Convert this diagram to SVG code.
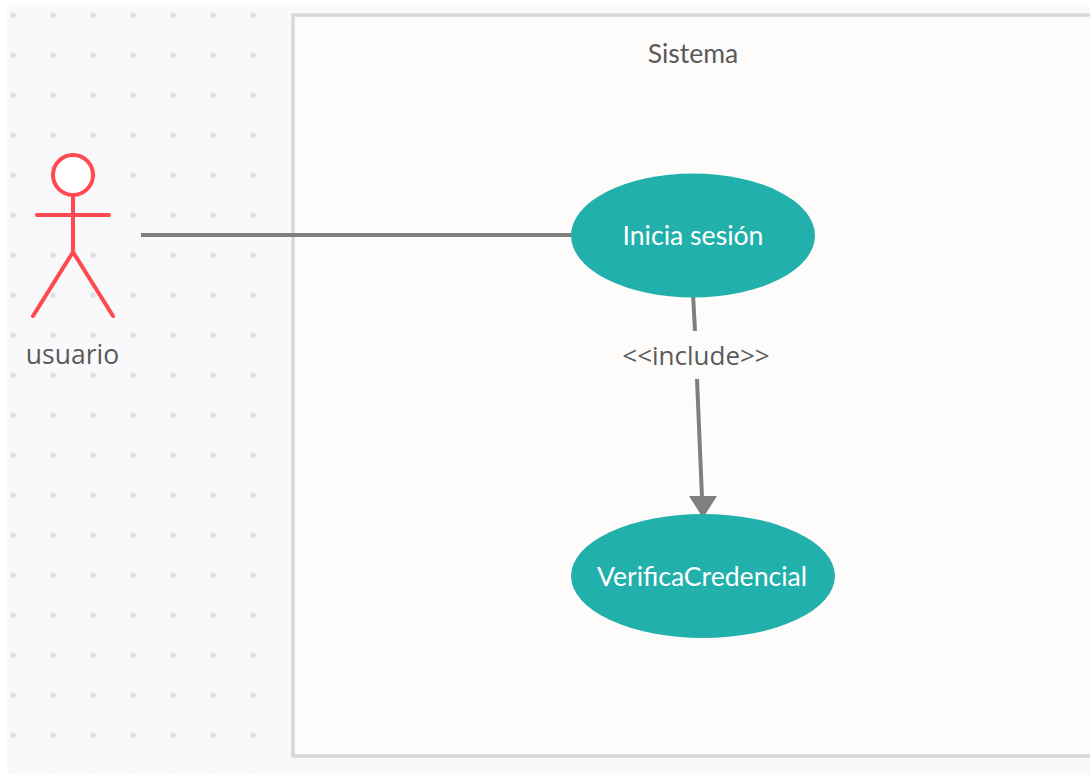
<svg xmlns="http://www.w3.org/2000/svg" width="1090" height="773" viewBox="0 0 1090 773">
<style>
text{font-family:"Lato","Noto Sans",sans-serif;text-anchor:middle}
.lbl{fill:#5a5a5a;font-size:26.500px}
.wide{font-family:"Open Sans","Noto Sans",sans-serif;font-size:26px}
.use{fill:#fff;font-size:26.600px}
.case{fill:#22b0ad}
.act{fill:none;stroke:#ff4a4f;stroke-width:4;stroke-linecap:round}
.conn{stroke:#7f7f7f;stroke-width:4;fill:none}
</style>
<defs>
<pattern id="dots" x="7" y="5" width="40" height="40" patternUnits="userSpaceOnUse">
<circle cx="6" cy="10" r="2.6" fill="#dfdfe3"/>
</pattern>
</defs>
<rect width="1090" height="773" fill="#fff"/>
<rect x="7" y="5" width="1083" height="768" fill="#f9f9fc"/>
<rect x="7" y="5" width="270" height="768" fill="url(#dots)"/>
<g id="sistema">
<rect x="293" y="15" width="810" height="741" fill="#fdfcfb" stroke="#d8d8d9" stroke-width="3.500"/>
<text class="lbl" x="693" y="63">Sistema</text>
</g>
<g id="connectors">
<line class="conn" x1="141" y1="235" x2="573" y2="235"/>
<line class="conn" x1="693" y1="294" x2="695" y2="331"/>
<line class="conn" x1="697" y1="379" x2="702" y2="498"/>
<path d="M689 496H717L703 518Z" fill="#7f7f7f"/>
</g>
<g id="actor-usuario">
<circle cx="73" cy="175" r="20" fill="#fff" stroke="#ff4a4f" stroke-width="4"/>
<path class="act" d="M73 195V252M37 215H109M73 252L33 316M73 252L113 316"/>
<text class="lbl wide" x="72.500" y="364" style="font-size:26.500px">usuario</text>
</g>
<g id="inicia-sesion">
<ellipse class="case" cx="693" cy="235.500" rx="122" ry="62"/>
<text class="use" x="693" y="245">Inicia sesión</text>
</g>
<g id="verifica-credencial">
<ellipse class="case" cx="703" cy="576" rx="132" ry="62"/>
<text class="use" x="702" y="586">VerificaCredencial</text>
</g>
<g id="include-label">
<text class="lbl wide" x="696" y="365">&lt;&lt;include&gt;&gt;</text>
</g>
</svg>
